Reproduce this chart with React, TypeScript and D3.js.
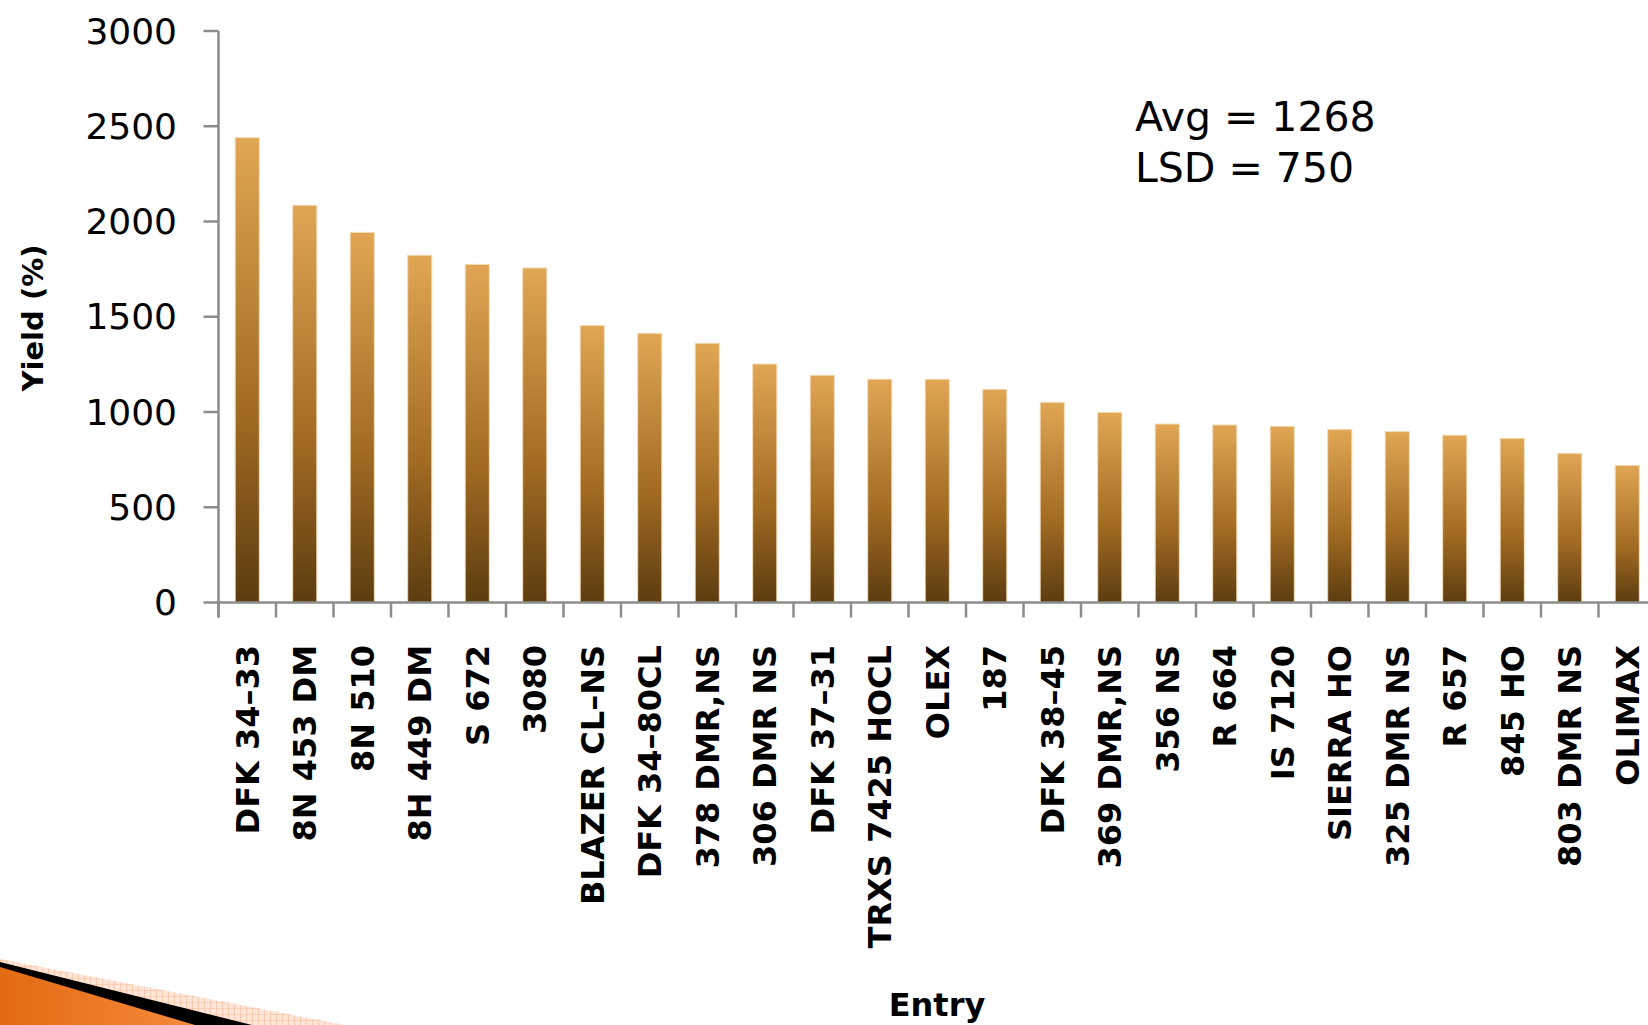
import React from "react";
import * as d3 from "d3";

const categories = [
  "DFK 34–33", "8N 453 DM", "8N 510", "8H 449 DM", "S 672", "3080",
  "BLAZER CL–NS", "DFK 34–80CL", "378 DMR,NS", "306 DMR NS", "DFK 37–31",
  "TRXS 7425 HOCL", "OLEX", "187", "DFK 38–45", "369 DMR,NS", "356 NS",
  "R 664", "IS 7120", "SIERRA HO", "325 DMR NS", "R 657", "845 HO",
  "803 DMR NS", "OLIMAX",
];
const yieldValues = [
  2440, 2085, 1943, 1823, 1775, 1756, 1454, 1413, 1361, 1252, 1193,
  1172, 1172, 1119, 1051, 998, 937, 932, 925, 909, 897, 878, 862, 783, 720,
];
const yTicks = [0, 500, 1000, 1500, 2000, 2500, 3000];
const annotation = ["Avg = 1268", "LSD = 750"];
const yTitle = "Yield (%)";
const xTitle = "Entry";

const W = 1648;
const H = 1025;

export default function App() {
  const x0 = 218.5;
  const step = 57.5;
  const x = d3
    .scaleBand<string>()
    .domain(categories)
    .range([x0, x0 + step * categories.length])
    .paddingInner(0.58)
    .paddingOuter(0.29);
  const y = d3.scaleLinear().domain([0, 3000]).range([602.5, 31]);
  const axisColor = "#8c8c8c";
  const font = "'DejaVu Sans', Verdana, sans-serif";

  const boundaries = d3.range(categories.length + 1).map((i) => x0 + i * x.step());

  return (
    <svg
      width={W}
      height={H}
      style={{ position: "absolute", left: 0, top: 0, background: "#fff" }}
    >
      <defs>
        <linearGradient id="barGrad" x1="0" y1="0" x2="0" y2="1">
          <stop offset="0" stopColor="#E0A654" />
          <stop offset="0.6" stopColor="#A06A22" />
          <stop offset="1" stopColor="#5C3C10" />
        </linearGradient>
        <linearGradient id="orangeGrad" x1="0" y1="0" x2="1" y2="0">
          <stop offset="0" stopColor="#E26A12" />
          <stop offset="1" stopColor="#F58A3A" />
        </linearGradient>
        <pattern id="hatch" width="6" height="6" patternUnits="userSpaceOnUse">
          <rect width="6" height="6" fill="#fde6d8" />
          <path d="M0 0 L6 0 M0 0 L0 6" stroke="#f6b897" strokeWidth="1.2" />
        </pattern>
      </defs>

      {/* bottom-left decoration */}
      <polygon points={`0,959 345,1025 0,1025`} fill="url(#hatch)" />
      <polygon points={`0,962 252,1025 0,1025`} fill="#000" />
      <polygon points={`0,967 195,1025 0,1025`} fill="url(#orangeGrad)" />

      {/* bars */}
      {categories.map((c, i) => (
        <rect
          key={c}
          x={x(c)}
          y={y(yieldValues[i])}
          width={x.bandwidth()}
          height={y(0) - y(yieldValues[i])}
          fill="url(#barGrad)"
          stroke="#f3dcb8"
          strokeWidth={1}
        />
      ))}

      {/* y axis */}
      <line x1={x0} x2={x0} y1={y(3000)} y2={y(0) + 15} stroke={axisColor} strokeWidth={2.5} />
      {yTicks.map((t) => (
        <g key={t}>
          <line x1={x0 - 15} x2={x0} y1={y(t)} y2={y(t)} stroke={axisColor} strokeWidth={2.5} />
          <text
            x={177}
            y={y(t)}
            dy="0.35em"
            textAnchor="end"
            fontFamily={font}
            fontSize={36}
            fill="#000"
          >
            {t}
          </text>
        </g>
      ))}

      {/* x axis */}
      <line x1={x0} x2={W} y1={y(0)} y2={y(0)} stroke={axisColor} strokeWidth={2.5} />
      {boundaries.map((b, i) => (
        <line key={i} x1={b} x2={b} y1={y(0)} y2={y(0) + 15} stroke={axisColor} strokeWidth={2.5} />
      ))}
      {categories.map((c) => {
        const cx = (x(c) as number) + x.bandwidth() / 2;
        return (
          <text
            key={c}
            transform={`translate(${cx},645) rotate(-90)`}
            dy="0.36em"
            textAnchor="end"
            fontFamily={font}
            fontWeight="bold"
            fontSize={32}
            fill="#000"
          >
            {c}
          </text>
        );
      })}

      {/* titles */}
      <text
        transform={`translate(33,318) rotate(-90)`}
        dy="0.36em"
        textAnchor="middle"
        fontFamily={font}
        fontWeight="bold"
        fontSize={29}
        fill="#000"
      >
        {yTitle}
      </text>
      <text
        x={937}
        y={1016}
        textAnchor="middle"
        fontFamily={font}
        fontWeight="bold"
        fontSize={32}
        fill="#000"
      >
        {xTitle}
      </text>

      {/* annotation */}
      {annotation.map((a, i) => (
        <text
          key={a}
          x={1135}
          y={131 + i * 51}
          fontFamily={font}
          fontSize={41}
          fill="#000"
        >
          {a}
        </text>
      ))}
    </svg>
  );
}
